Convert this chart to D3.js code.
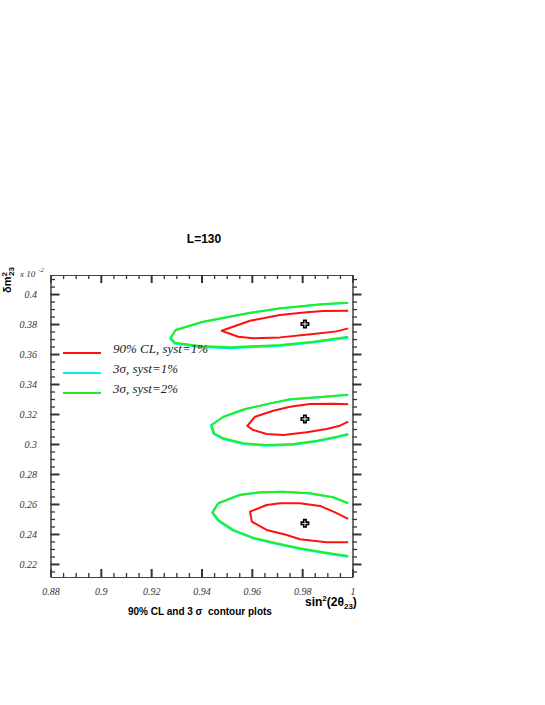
<!DOCTYPE html>
<html><head><meta charset="utf-8">
<script src="https://cdn.jsdelivr.net/npm/d3@7"></script>
<style>
html,body{margin:0;padding:0;background:#fff;}
svg{display:block;}
</style></head>
<body>
<script>
// ---- data ----
const xMajorTicks = [0.88, 0.90, 0.92, 0.94, 0.96, 0.98, 1.00];
const xTickLabels = ["0.88", "0.9", "0.92", "0.94", "0.96", "0.98", "1"];
const yMajorTicks = [0.22, 0.24, 0.26, 0.28, 0.30, 0.32, 0.34, 0.36, 0.38, 0.40];
const yTickLabels = ["0.22", "0.24", "0.26", "0.28", "0.3", "0.32", "0.34", "0.36", "0.38", "0.4"];
const legendLabels = ["90% CL, syst=1%", "3\u03c3, syst=1%", "3\u03c3, syst=2%"];

// 90% CL, syst=1% (red)
const red90Top = [[0.9983,0.3889],[0.9884,0.3887],[0.9818,0.3878],[0.9712,0.3860],[0.9593,0.3822],[0.9480,0.3755],[0.9546,0.3715],[0.9606,0.3705],[0.9712,0.3711],[0.9844,0.3733],[0.9937,0.3751],[0.9983,0.3771]];
const red90Mid = [[0.9983,0.3265],[0.9924,0.3269],[0.9831,0.3267],[0.9752,0.3249],[0.9685,0.3222],[0.9613,0.3182],[0.9582,0.3120],[0.9606,0.3093],[0.9659,0.3067],[0.9725,0.3060],[0.9818,0.3078],[0.9897,0.3100],[0.9950,0.3122],[0.9983,0.3149]];
const red90Bot = [[0.9983,0.2500],[0.9924,0.2549],[0.9871,0.2587],[0.9791,0.2605],[0.9712,0.2605],[0.9659,0.2593],[0.9593,0.2549],[0.9600,0.2482],[0.9659,0.2427],[0.9739,0.2393],[0.9791,0.2365],[0.9897,0.2345],[0.9983,0.2345]];

// 3 sigma, syst=1% (cyan)
const cyan3sTop = [[0.9983,0.3941],[0.9884,0.3932],[0.9712,0.3904],[0.9593,0.3874],[0.9405,0.3814],[0.9296,0.3759],[0.9275,0.3703],[0.9293,0.3670],[0.9394,0.3647],[0.9513,0.3639],[0.9712,0.3654],[0.9844,0.3676],[0.9983,0.3709]];
const cyan3sMid = [[0.9983,0.3328],[0.9884,0.3314],[0.9752,0.3297],[0.9672,0.3270],[0.9573,0.3232],[0.9486,0.3180],[0.9437,0.3125],[0.9448,0.3067],[0.9486,0.3033],[0.9566,0.3000],[0.9659,0.2988],[0.9765,0.2995],[0.9858,0.3017],[0.9937,0.3044],[0.9983,0.3062]];
const cyan3sBot = [[0.9983,0.2604],[0.9924,0.2644],[0.9831,0.2670],[0.9725,0.2681],[0.9632,0.2677],[0.9553,0.2660],[0.9465,0.2603],[0.9442,0.2543],[0.9465,0.2489],[0.9525,0.2422],[0.9613,0.2366],[0.9699,0.2333],[0.9791,0.2300],[0.9897,0.2270],[0.9983,0.2248]];

// 3 sigma, syst=2% (green)
const green3sTop = [[0.9983,0.3942],[0.9884,0.3933],[0.9712,0.3905],[0.9593,0.3875],[0.9405,0.3815],[0.9297,0.3760],[0.9278,0.3705],[0.9295,0.3675],[0.9394,0.3653],[0.9513,0.3645],[0.9712,0.3660],[0.9844,0.3682],[0.9983,0.3715]];
const green3sMid = [[0.9983,0.3329],[0.9884,0.3315],[0.9752,0.3298],[0.9672,0.3271],[0.9573,0.3233],[0.9487,0.3182],[0.9440,0.3127],[0.9450,0.3071],[0.9487,0.3038],[0.9566,0.3005],[0.9659,0.2993],[0.9765,0.3000],[0.9858,0.3022],[0.9937,0.3049],[0.9983,0.3067]];
const green3sBot = [[0.9983,0.2605],[0.9924,0.2645],[0.9831,0.2671],[0.9725,0.2682],[0.9632,0.2678],[0.9553,0.2662],[0.9467,0.2605],[0.9445,0.2545],[0.9467,0.2493],[0.9526,0.2427],[0.9613,0.2371],[0.9699,0.2338],[0.9791,0.2305],[0.9897,0.2275],[0.9983,0.2253]];

// best-fit points
const bestFit = [[0.9811,0.3800],[0.9811,0.3167],[0.9811,0.2471]];

// ---- drawing ----
const W = 545, H = 705;
const L = 50.5, R = 352.5, T = 275, B = 577;
const svg = d3.select("body").append("svg").attr("width", W).attr("height", H);

const x = d3.scaleLinear().domain([0.88, 1.0]).range([L, R]);
const y = d3.scaleLinear().domain([0.2113, 0.4127]).range([B, T]);

const xMinor = d3.range(0, 25).map(i => 0.88 + i * 0.005).filter(v => !xMajorTicks.some(m => Math.abs(m - v) < 1e-6));
const yMinor = d3.range(0, 40).map(i => 0.215 + i * 0.005).filter(v => v <= 0.411 && !yMajorTicks.some(m => Math.abs(m - v) < 1e-6));

const axisColor = "#333";
function styleAxis(g, w) {
  g.selectAll(".domain").attr("stroke", "#444").attr("stroke-width", 1);
  g.selectAll(".tick line").attr("stroke", axisColor).attr("stroke-width", w);
  g.selectAll(".tick text").attr("font-family", "'Liberation Serif', 'Times New Roman', serif")
    .attr("font-style", "italic").attr("font-size", 10).attr("fill", "#333");
}

// bottom
svg.append("g").attr("transform", `translate(0,${B})`)
  .call(d3.axisBottom(x).tickValues(xMinor).tickSizeInner(-4).tickSizeOuter(0).tickFormat(""))
  .call(g => styleAxis(g, 1.3));
svg.append("g").attr("transform", `translate(0,${B})`)
  .call(d3.axisBottom(x).tickValues(xMajorTicks).tickSizeInner(-8).tickSizeOuter(0).tickPadding(11)
    .tickFormat((d, i) => xTickLabels[i]))
  .call(g => styleAxis(g, 2));
// top
svg.append("g").attr("transform", `translate(0,${T})`)
  .call(d3.axisTop(x).tickValues(xMinor).tickSizeInner(-4).tickSizeOuter(0).tickFormat(""))
  .call(g => styleAxis(g, 1.3));
svg.append("g").attr("transform", `translate(0,${T})`)
  .call(d3.axisTop(x).tickValues(xMajorTicks).tickSizeInner(-8).tickSizeOuter(0).tickFormat(""))
  .call(g => styleAxis(g, 2));
// left
svg.append("g").attr("transform", `translate(${L},0)`)
  .call(d3.axisLeft(y).tickValues(yMinor).tickSizeInner(-4.5).tickSizeOuter(0).tickFormat(""))
  .call(g => styleAxis(g, 1.3));
svg.append("g").attr("transform", `translate(${L},0)`)
  .call(d3.axisLeft(y).tickValues(yMajorTicks).tickSizeInner(-9).tickSizeOuter(0).tickPadding(13.5)
    .tickFormat((d, i) => yTickLabels[i]))
  .call(g => styleAxis(g, 2));
// right
svg.append("g").attr("transform", `translate(${R},0)`)
  .call(d3.axisRight(y).tickValues(yMinor).tickSizeInner(4.5).tickSizeOuter(0).tickFormat(""))
  .call(g => styleAxis(g, 1.3));
svg.append("g").attr("transform", `translate(${R},0)`)
  .call(d3.axisRight(y).tickValues(yMajorTicks).tickSizeInner(9).tickSizeOuter(0).tickFormat(""))
  .call(g => styleAxis(g, 2));

// contours
const line = d3.line().x(d => x(d[0])).y(d => y(d[1]));
const colors = { red: "#ff1010", cyan: "#00f0f0", green: "#22ee22" };
[[cyan3sTop, colors.cyan], [cyan3sMid, colors.cyan], [cyan3sBot, colors.cyan],
 [green3sTop, colors.green], [green3sMid, colors.green], [green3sBot, colors.green],
 [red90Top, colors.red], [red90Mid, colors.red], [red90Bot, colors.red]].forEach(([pts, c]) => {
  svg.append("path").attr("d", line(pts)).attr("fill", "none").attr("stroke", c)
    .attr("stroke-width", 2).attr("stroke-linejoin", "round");
});

// best-fit markers
svg.selectAll("path.bf").data(bestFit).join("path").attr("class", "bf")
  .attr("transform", d => `translate(${x(d[0])},${y(d[1])})`)
  .attr("d", d3.symbol(d3.symbolCross, 30))
  .attr("fill", "#fff").attr("stroke", "#000").attr("stroke-width", 1.6);

// legend
const legColors = [colors.red, colors.cyan, colors.green];
const legY = [353, 373, 393];
legendLabels.forEach((t, i) => {
  svg.append("line").attr("x1", 63).attr("x2", 101).attr("y1", legY[i]).attr("y2", legY[i])
    .attr("stroke", legColors[i]).attr("stroke-width", 2);
  svg.append("text").attr("x", 113).attr("y", legY[i]).text(t)
    .attr("font-family", "'Liberation Serif', 'Times New Roman', serif").attr("font-style", "italic")
    .attr("font-size", 13).attr("fill", "#222");
});

// title
svg.append("text").attr("x", 204).attr("y", 243).attr("text-anchor", "middle")
  .attr("font-family", "'Liberation Sans', Arial, sans-serif").attr("font-weight", "bold")
  .attr("font-size", 12).text("L=130");

// y-axis label
const yl = svg.append("text").attr("transform", "translate(11,280) rotate(-90)")
  .attr("text-anchor", "middle")
  .attr("font-family", "'Liberation Sans', Arial, sans-serif").attr("font-weight", "bold").attr("font-size", 11);
yl.append("tspan").text("\u03b4m");
yl.append("tspan").attr("dy", -4).attr("font-size", 8).text("2");
yl.append("tspan").attr("dx", -4).attr("dy", 7).attr("font-size", 8).text("23");

// multiplier
const mul = svg.append("text").attr("x", 20).attr("y", 277)
  .attr("font-family", "'Liberation Serif', 'Times New Roman', serif").attr("font-style", "italic")
  .attr("font-size", 9).attr("fill", "#333");
mul.append("tspan").text("x 10");
mul.append("tspan").attr("dx", 3).attr("dy", -5).attr("font-size", 7).text("-2");

// x-axis label
const xl = svg.append("text").attr("x", 305).attr("y", 606)
  .attr("font-family", "'Liberation Sans', Arial, sans-serif").attr("font-weight", "bold").attr("font-size", 12);
xl.append("tspan").text("sin");
xl.append("tspan").attr("dy", -5).attr("font-size", 8).text("2");
xl.append("tspan").attr("dy", 5).text("(2\u03b8");
xl.append("tspan").attr("dy", 3).attr("font-size", 8).text("23");
xl.append("tspan").attr("dy", -3).text(")");

svg.append("text").attr("x", 128).attr("y", 615).attr("xml:space", "preserve").style("white-space", "pre")
  .attr("font-family", "'Liberation Sans', Arial, sans-serif").attr("font-weight", "bold").attr("font-size", 10)
  .text("90% CL and 3 \u03c3  contour plots");
</script>
</body></html>
